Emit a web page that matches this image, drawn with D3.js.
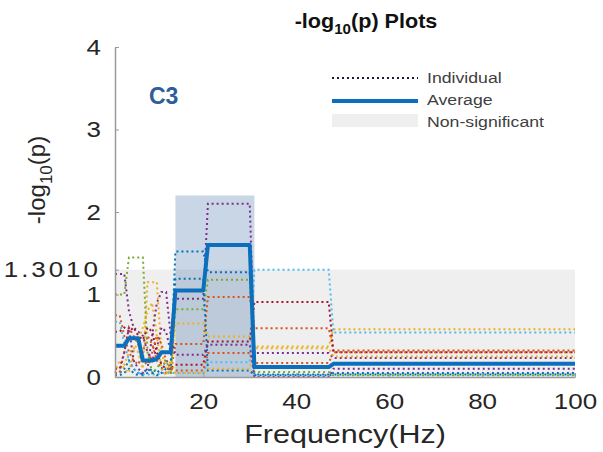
<!DOCTYPE html>
<html>
<head>
<meta charset="utf-8">
<script src="https://cdn.jsdelivr.net/npm/d3@7"></script>
<style>
  body { margin: 0; background: #fff; }
  svg text { font-family: "Liberation Sans", Arial, sans-serif; }
</style>
</head>
<body>
<div id="chart"></div>
<script>
// frequency grid (Hz)
const freqs = [1, 2, 3, 4, 5, 6, 7, 8, 9, 10, 11, 12, 13, 14, 20, 21, 30, 31, 47, 48, 100];

// individual -log10(p) curves
const blueA   = [0.05, 0.05, 0.1, 0.2, 0.1, 0.05, 0.02, 0.05, 0.1, 0.05, 0.1, 0.2, 0.15, 1.52, 1.52, 1.27, 1.27, 0.03, 0.03, 0.05, 0.05];
const redA    = [0.75, 0.75, 0.5, 0.3, 0.2, 0.15, 0.3, 0.5, 0.4, 0.2, 0.1, 0.05, 0.05, 0.4, 0.4, 0.97, 0.97, 0.59, 0.59, 0.32, 0.32];
const orangeA = [0.1, 0.1, 0.15, 0.3, 0.35, 0.3, 0.1, 1.15, 1.15, 1.15, 0.3, 0.1, 0.05, 0.65, 0.65, 0.49, 0.49, 0.37, 0.37, 0.58, 0.58];
const purpleA = [1.25, 1.25, 1.25, 0.8, 0.6, 0.55, 0.5, 0.3, 0.2, 0.35, 0.6, 0.55, 0.3, 0.95, 0.95, 2.1, 2.1, 0.29, 0.29, 0.23, 0.23];
const green   = [1.0, 1.0, 1.0, 1.45, 1.45, 1.45, 1.45, 0.3, 0.05, 0.1, 0.2, 0.2, 0.05, 0.82, 0.82, 1.18, 1.18, 0.06, 0.06, 0.02, 0.02];
const ltblue  = [0.67, 0.67, 0.4, 0.2, 0.1, 0.05, 0.03, 0.03, 0.03, 0.03, 0.05, 0.05, 0.05, 0.05, 0.05, 0.18, 0.18, 1.3, 1.3, 0.54, 0.54];
const darkred = [0.55, 0.55, 0.6, 0.55, 0.6, 0.5, 0.45, 0.6, 0.55, 0.3, 0.15, 0.1, 0.1, 0.15, 0.15, 0.43, 0.43, 0.91, 0.91, 0.3, 0.3];
const blueB   = [0.02, 0.02, 0.05, 0.1, 0.05, 0.02, 0.05, 0.1, 0.05, 0.02, 0.05, 0.1, 0.1, 1.19, 1.19, 0.08, 0.08, 0.02, 0.02, 0.03, 0.03];
const redB    = [0.05, 0.05, 0.3, 0.6, 0.5, 0.4, 0.2, 0.15, 0.3, 0.5, 0.4, 0.2, 0.1, 0.08, 0.08, 0.29, 0.29, 0.17, 0.17, 0.3, 0.3];
const orangeB = [0.05, 0.2, 0.1, 0.05, 0.3, 0.45, 0.6, 0.8, 0.9, 0.5, 0.1, 0.02, 0.2, 0.05, 0.05, 0.1, 0.1, 0.35, 0.35, 0.25, 0.25];
const purpleB = [0.1, 0.1, 0.3, 0.6, 0.2, 0.1, 0.05, 0.1, 0.5, 0.9, 1.03, 1.03, 0.5, 0.27, 0.27, 0.39, 0.39, 0.0, 0.0, 0.1, 0.1];

// average curve
const average = [0.38, 0.38, 0.38, 0.47, 0.47, 0.47, 0.2, 0.2, 0.2, 0.22, 0.3, 0.3, 0.3, 1.05, 1.05, 1.6, 1.6, 0.12, 0.12, 0.16, 0.16];

const individuals = [blueA, redA, orangeA, purpleA, green, ltblue, darkred, blueB, redB, orangeB, purpleB];
const colors = ["#0072BD", "#D95319", "#EDB120", "#7E2F8E", "#77AC30", "#4DBEEE", "#A2142F"];

const threshold = 1.301;
const sigBand = [14, 31];
const sigTop = 2.2;

const xTicks = [20, 40, 60, 80, 100];
const yTicks = [0, 1, 1.301, 2, 3, 4];
const yTickLabels = ["0", "1", "1.3010", "2", "3", "4"];

const legendItems = ["Individual", "Average", "Non-significant"];

const width = 603, height = 452;
const margin = {left: 115, right: 28, top: 47, bottom: 75};
const sx = 1.18; // text looks stretched sideways in the original

const x = d3.scaleLinear().domain([1, 100]).range([margin.left, width - margin.right]);
const y = d3.scaleLinear().domain([0, 4]).range([height - margin.bottom, margin.top]);

const svg = d3.select("#chart").append("svg")
  .attr("width", width).attr("height", height);

// non-significant area
svg.append("rect")
  .attr("x", x(1)).attr("y", y(threshold))
  .attr("width", x(100) - x(1)).attr("height", y(0) - y(threshold))
  .attr("fill", "#efefef");

// significant band
svg.append("rect")
  .attr("x", x(sigBand[0])).attr("y", y(sigTop))
  .attr("width", x(sigBand[1]) - x(sigBand[0])).attr("height", y(0) - y(sigTop))
  .attr("fill", "#3d6aa6").attr("opacity", 0.28);

const line = d3.line()
  .x((d, i) => x(freqs[i]))
  .y(d => y(d));

svg.selectAll(".indiv")
  .data(individuals)
  .enter().append("path")
  .attr("class", "indiv")
  .attr("d", line)
  .attr("fill", "none")
  .attr("stroke", (d, i) => colors[i % colors.length])
  .attr("stroke-width", 2)
  .attr("stroke-dasharray", "2 3");

svg.append("path")
  .attr("d", line(average))
  .attr("fill", "none")
  .attr("stroke", "#0b6fbd")
  .attr("stroke-width", 4)
  .attr("stroke-linejoin", "round");

// axes
const xAxis = svg.append("g")
  .attr("transform", `translate(0,${y(0)})`)
  .call(d3.axisBottom(x).tickValues(xTicks).tickSizeInner(-4).tickSizeOuter(0).tickPadding(16));
const yAxis = svg.append("g")
  .attr("transform", `translate(${x(1)},0)`)
  .call(d3.axisLeft(y).tickValues(yTicks).tickFormat((d, i) => yTickLabels[i])
    .tickSizeInner(-4).tickSizeOuter(0).tickPadding(12));

[xAxis, yAxis].forEach(g => {
  g.select(".domain").attr("stroke", "#9a9a9a").attr("stroke-width", 1.5);
  g.selectAll(".tick line").attr("stroke", "#9a9a9a");
  g.selectAll(".tick text").attr("fill", "#262626").attr("font-size", 22)
    .attr("transform", `scale(${sx},1)`);
});
yAxis.selectAll(".tick text").filter(d => d === threshold).attr("letter-spacing", 2.5);

// title
const title = svg.append("text")
  .attr("transform", `translate(366,28) scale(1.08,1)`)
  .attr("text-anchor", "middle")
  .attr("font-size", 20).attr("font-weight", "bold").attr("fill", "#111");
title.append("tspan").text("-log");
title.append("tspan").attr("font-size", 14).attr("dy", 6).text("10");
title.append("tspan").attr("dy", -6).text("(p) Plots");

// axis labels
svg.append("text")
  .attr("transform", `translate(${(x(1) + x(100)) / 2},443) scale(1.22,1)`)
  .attr("text-anchor", "middle").attr("font-size", 25).attr("fill", "#262626")
  .text("Frequency(Hz)");

const yl = svg.append("text")
  .attr("transform", "translate(45,180) rotate(-90)")
  .attr("text-anchor", "middle").attr("font-size", 24).attr("fill", "#262626");
yl.append("tspan").text("-log");
yl.append("tspan").attr("font-size", 17).attr("dy", 7).text("10");
yl.append("tspan").attr("dy", -7).text("(p)");

// panel label
svg.append("text")
  .attr("x", 149).attr("y", 104)
  .attr("font-family", "Lato, 'Open Sans', sans-serif")
  .attr("font-size", 23).attr("font-weight", "bold").attr("fill", "#2e5e9a")
  .text("C3");

// legend
const lg = svg.append("g").attr("transform", "translate(332,0)");
lg.append("line").attr("x1", 0).attr("x2", 86).attr("y1", 78).attr("y2", 78)
  .attr("stroke", "#1a1a40").attr("stroke-width", 2).attr("stroke-dasharray", "2 3");
lg.append("line").attr("x1", 0).attr("x2", 86).attr("y1", 101).attr("y2", 101)
  .attr("stroke", "#0b6fbd").attr("stroke-width", 4);
lg.append("rect").attr("x", 0).attr("y", 114).attr("width", 86).attr("height", 13)
  .attr("fill", "#efefef");
lg.selectAll(".lt")
  .data(legendItems)
  .enter().append("text")
  .attr("class", "lt")
  .attr("transform", (d, i) => `translate(95,${83 + i * 22}) scale(${sx},1)`)
  .attr("font-size", 15).attr("fill", "#404040")
  .text(d => d);
</script>
</body>
</html>
